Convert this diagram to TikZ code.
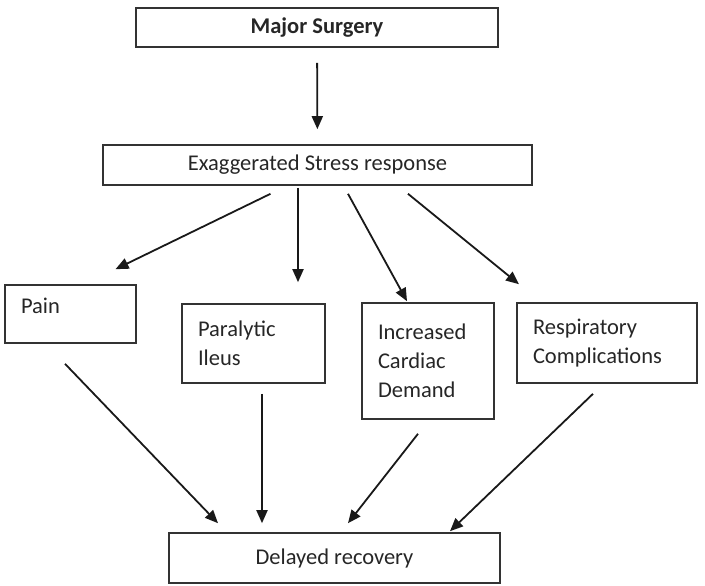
\documentclass[tikz,border=0pt]{standalone}
\usepackage{fontspec}
\setmainfont{Carlito}
\usetikzlibrary{arrows.meta}
\tikzstyle{box}=[draw=black!80,line width=1.6pt,rectangle,inner xsep=16pt,inner ysep=0pt,font=\fontsize{22.5}{29}\selectfont,text=black!85]
\tikzstyle{lbox}=[box,align=left]
\tikzstyle{edge} = [draw,black!90,line width=1.8pt,-{Triangle[length=13pt,width=11pt]}]

\begin{document}
\begin{tikzpicture}[x=1pt,y=-1pt]

    \useasboundingbox (0,0) rectangle (705,586);

    \node[box,minimum width=362pt,minimum height=39pt] (major) at (317,27.5) {\textbf{Major Surgery}};
    \node[box,minimum width=429pt,minimum height=40pt] (stress) at (317.5,165) {Exaggerated Stress response};

    \node[lbox,text width=99pt,minimum height=58pt,text depth=16pt] (pain) at (70.5,314) {Pain};
    \node[lbox,text width=111pt,minimum height=79pt] (ileus) at (253.5,343.5) {Paralytic\\Ileus};
    \node[lbox,text width=100pt,minimum height=116pt] (cardiac) at (428,361) {Increased\\Cardiac\\Demand};
    \node[lbox,text width=148pt,minimum height=80pt] (resp) at (607,343) {Respiratory\\Complications};

    \node[box,minimum width=331pt,minimum height=50pt] (delay) at (334.5,558) {Delayed recovery};

    % from surgery to stress response
    \path[edge,shorten <=15pt,shorten >=15pt] (major) -- (stress);

    % stress response to the four effects
    \foreach \sx/\sy/\dest/\dx/\dy in {-47/-8/pain/45/15, -19.5/-2/ileus/44.5/21, 30.5/-8/cardiac/-21/1, 90.5/-8/resp/-88/18}
        \path[edge] ([xshift=\sx pt,yshift=\sy pt]stress.south) -- ([xshift=\dx pt,yshift=\dy pt]\dest.north);

    % effects to delayed recovery
    \foreach \source/\sx/\sy/\dx/\dy in {pain/-5.5/-20/-116.5/9, ileus/8.5/-10/-72.5/9, cardiac/-10/-14/13.5/9, resp/-14/-10/115.5/1}
        \path[edge] ([xshift=\sx pt,yshift=\sy pt]\source.south) -- ([xshift=\dx pt,yshift=\dy pt]delay.north);

\end{tikzpicture}
\end{document}
